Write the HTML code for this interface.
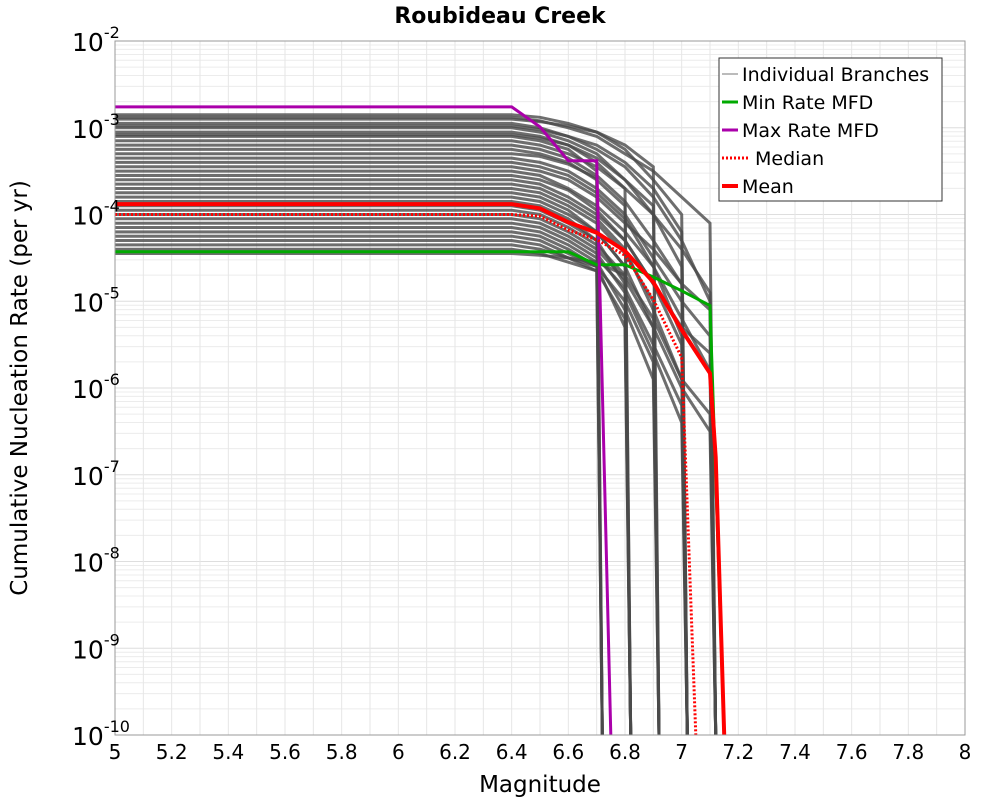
<!DOCTYPE html>
<html><head><meta charset="utf-8"><style>
body{margin:0;background:#fff;font-family:"Liberation Sans","DejaVu Sans",sans-serif}
</style></head><body>
<svg width="1000" height="800" xmlns="http://www.w3.org/2000/svg" style="font-family:'DejaVu Sans','Liberation Sans',sans-serif">
<text x="500" y="23" text-anchor="middle" font-size="22" font-weight="bold">Roubideau Creek</text>
<g id="grid"></g>
<g id="branches"></g>
<g id="main"></g>
<rect x="115" y="41" width="850" height="694" fill="none" stroke="#999"/>
<g id="ticks"></g>
<text x="540" y="792" text-anchor="middle" font-size="23">Magnitude</text>
<text transform="translate(27,388) rotate(-90)" text-anchor="middle" font-size="23">Cumulative Nucleation Rate (per yr)</text>
<g>
<rect x="719" y="58" width="223" height="143" fill="#fff" stroke="#333"/>
<g><line x1="722" y1="74" x2="738" y2="74" stroke="#777" stroke-width="1"/><text x="742" y="81" font-size="19">Individual Branches</text></g>
<g><line x1="722" y1="102" x2="738" y2="102" stroke="#00aa00" stroke-width="3"/><text x="742" y="109" font-size="19">Min Rate MFD</text></g>
<g><line x1="722" y1="130" x2="738" y2="130" stroke="#aa00aa" stroke-width="3"/><text x="742" y="137" font-size="19">Max Rate MFD</text></g>
<g><line x1="722" y1="158" x2="748" y2="158" stroke="#ff0000" stroke-width="3" stroke-dasharray="2,2"/><text x="755" y="165" font-size="19">Median</text></g>
<g><line x1="722" y1="186" x2="738" y2="186" stroke="#ff0000" stroke-width="4"/><text x="742" y="193" font-size="19">Mean</text></g>
</g>
</svg>
<script>
const xTicks=[5,5.2,5.4,5.6,5.8,6,6.2,6.4,6.6,6.8,7,7.2,7.4,7.6,7.8,8];
const yExps=[-2,-3,-4,-5,-6,-7,-8,-9,-10];
const minM=[5,6.4,6.5,6.6,6.7,6.8,6.9,7.0,7.1,7.15];
const minLog=[-4.43,-4.43,-4.43,-4.43,-4.58,-4.58,-4.72,-4.88,-5.05,-10];
const maxM=[5,6.4,6.5,6.6,6.7,6.75];
const maxLog=[-2.76,-2.76,-2.99,-3.38,-3.38,-10];
const meanM=[5,6.4,6.5,6.6,6.7,6.8,6.9,7.0,7.1,7.12,7.15];
const meanLog=[-3.88,-3.88,-3.93,-4.09,-4.21,-4.42,-4.78,-5.33,-5.83,-6.8,-10];
const medM=[5,6.4,6.5,6.6,6.7,6.8,6.9,7.0,7.05];
const medLog=[-4.0,-4.0,-4.02,-4.18,-4.29,-4.47,-4.98,-5.65,-10];
const branchVals=[
[-2.88,-2.92,-3.0,-3.1,-3.3,-3.5,-3.8,-4.1],[-2.95,-3.0,-3.1,-3.2,-3.4,-3.7,-4.2],
[-3.0,-3.05,-3.15,-3.3,-3.6,-3.9],[-3.05,-3.1,-3.2,-3.4,-3.7],[-3.1,-3.15,-3.25,-3.5],
[-2.9,-2.93,-2.98,-3.05,-3.2,-3.45],[-3.15,-3.2,-3.3,-3.45,-3.7,-4.0,-4.4,-4.9],
[-3.2,-3.25,-3.35,-3.55,-3.85,-4.3,-4.8],[-3.25,-3.3,-3.4,-3.6,-3.9],
[-2.98,-3.02,-3.1,-3.25,-3.45,-3.8,-4.3,-5.0],[-3.08,-3.12,-3.2,-3.35,-3.6,-4.0,-4.6],
[-3.3,-3.33,-3.42,-3.58],
[-3.5,-3.55,-3.7,-3.9,-4.2,-4.6,-5.2,-5.8],[-3.6,-3.65,-3.8,-4.0,-4.3,-4.8,-5.5],
[-3.7,-3.75,-3.9,-4.1,-4.45,-5.0],[-3.8,-3.85,-4.0,-4.2,-4.6],[-3.9,-3.95,-4.1,-4.3],
[-4.0,-4.05,-4.2,-4.4,-4.75,-5.3,-6.0,-6.5],[-4.1,-4.15,-4.3,-4.5,-4.85,-5.5,-6.2],
[-4.2,-4.25,-4.4,-4.6,-5.0,-5.7],[-4.3,-4.35,-4.5,-4.65,-5.2],[-4.4,-4.45,-4.55,-4.65],
[-3.55,-3.6,-3.72,-3.95,-4.3,-4.8,-5.3,-5.6],[-3.65,-3.7,-3.85,-4.05,-4.4,-5.1,-5.9],
[-3.75,-3.8,-3.95,-4.2,-4.6,-5.3],[-3.85,-3.9,-4.05,-4.3,-4.8],
[-3.95,-4.0,-4.15,-4.35,-4.7,-5.2,-5.9,-6.3],[-4.05,-4.1,-4.25,-4.45,-4.9,-5.6,-6.4],
[-4.15,-4.2,-4.35,-4.55,-5.1,-5.9],[-4.25,-4.3,-4.45,-4.6,-5.3],[-4.35,-4.4,-4.5,-4.6],
[-3.45,-3.5,-3.6,-3.8,-4.1,-4.4,-4.8,-5.1],
[-2.85,-2.88,-2.95,-3.05,-3.25,-3.6,-4.0],[-3.35,-3.4,-3.5,-3.7,-4.0,-4.5,-5.0,-5.4],
[-3.4,-3.45,-3.55,-3.75,-4.05,-4.6,-5.4],[-4.45,-4.47,-4.5,-4.55,-4.7]
];
const NS="http://www.w3.org/2000/svg";
const X0=115,X1=965,Y0=41,Y1=735;
function xs(m){return X0+(m-5)/3*(X1-X0);}
function ys(l){return Y0+(-2-l)/8*(Y1-Y0);}
function mk(tag,at,parent){const e=document.createElementNS(NS,tag);for(const k in at)e.setAttribute(k,at[k]);parent.appendChild(e);return e;}
const grid=document.getElementById('grid');
for(let i=0;i<yExps.length-1;i++){for(let k=2;k<=9;k++){const l=yExps[i+1]+Math.log10(k);
const g=mk('line',{x1:X0,x2:X1,y1:ys(l),y2:ys(l),stroke:'#ececec'},grid);

}}
yExps.forEach(e=>{const g=mk('line',{x1:X0,x2:X1,y1:ys(e),y2:ys(e),stroke:'#dedede'},grid);

});
for(let m=5;m<=8.001;m+=0.1){const g=mk('line',{x1:xs(m),x2:xs(m),y1:Y0,y2:Y1,stroke:'#e6e6e6'},grid);

}
const ticks=document.getElementById('ticks');
xTicks.forEach(t=>{const tx=mk('text',{x:xs(t),y:759,'text-anchor':'middle','font-size':20},ticks);tx.textContent=String(t);

});
yExps.forEach(e=>{const tx=mk('text',{x:72,y:ys(e)+10,'font-size':25},ticks);tx.textContent='10';
const s=mk('tspan',{dy:-13,'font-size':16},tx);s.textContent=String(e);

});
function path(ms,ls){return ms.map((m,i)=>(i?'L':'M')+xs(m).toFixed(1)+','+ys(ls[i]).toFixed(1)).join('');}
const bg=document.getElementById('branches');
branchVals.forEach(v=>{const ms=[5],ls=[v[0]];v.forEach((l,i)=>{ms.push(6.4+i*0.1);ls.push(l);});
const endM=6.4+(v.length-1)*0.1;ms.push(endM+0.02);ls.push(-10);
const p=mk('path',{d:path(ms,ls),fill:'none',stroke:'#4a4a4a','stroke-width':3,'stroke-opacity':0.8},bg);

});
const mg=document.getElementById('main');
[[minM,minLog,'#00aa00',3,null,'min-rate-line'],[maxM,maxLog,'#aa00aa',3,null,'max-rate-line'],
 [medM,medLog,'#ff0000',3,'2,2','median-line'],[meanM,meanLog,'#ff0000',4,null,'mean-line']].forEach(s=>{
const at={d:path(s[0],s[1]),fill:'none',stroke:s[2],'stroke-width':s[3]};if(s[4])at['stroke-dasharray']=s[4];
const p=mk('path',at,mg);

});
</script>
</body></html>
